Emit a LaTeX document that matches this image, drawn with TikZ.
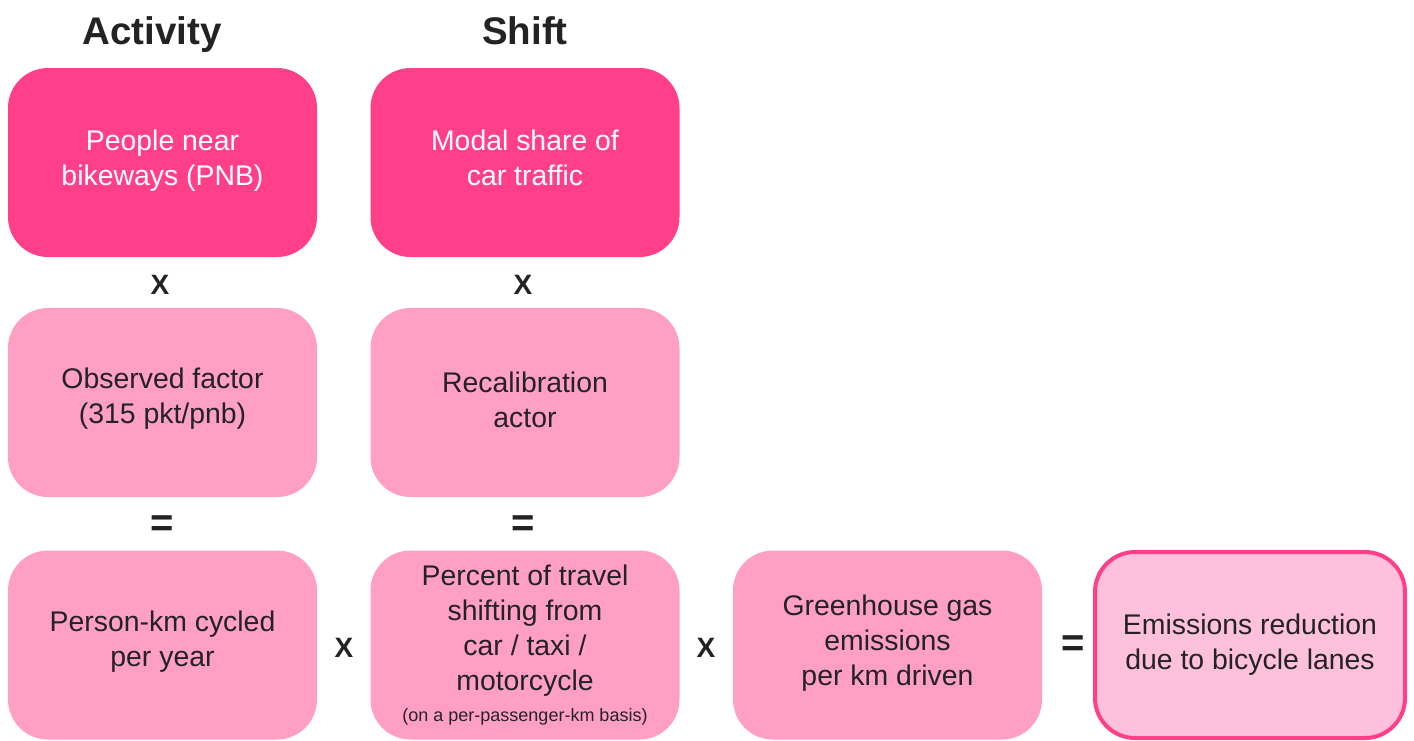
\documentclass[tikz,border=0pt]{standalone}
\usepackage{fontspec}
\setmainfont{Liberation Sans}
\definecolor{hotpink}{HTML}{FF3F8A}
\definecolor{midpink}{HTML}{FF9FC4}
\definecolor{palepink}{HTML}{FFC0DB}
\definecolor{ink}{HTML}{232323}
\tikzset{
  card/.style={minimum width=309pt, minimum height=189pt, rounded corners=40pt,
    inner sep=0pt, align=center, font=\fontsize{28.4}{35}\selectfont},
  topcard/.style={card, fill=hotpink, text=white},
  midcard/.style={card, fill=midpink, text=ink},
  endcard/.style={card, fill=palepink, draw=hotpink, line width=4pt, text=ink,
    minimum width=310pt, minimum height=186pt},
  heading/.style={font=\fontsize{38.5}{40}\selectfont\bfseries, text=ink, anchor=base},
  oper/.style={font=\fontsize{28}{30}\selectfont\bfseries, text=ink, inner sep=0pt},
  eqop/.style={font=\fontsize{40}{40}\selectfont\bfseries, text=ink, inner sep=0pt}
}
\begin{document}
\begin{tikzpicture}[x=1pt,y=-1pt]
\useasboundingbox (0,0) rectangle (1414,740);
\node[heading] (hact) at (152,44) {Activity};
\node[heading] (hshift) at (525,44) {Shift};
\node[topcard] (pnb) at (162.5,162.5) {People near\\bikeways (PNB)\\[-26pt]\mbox{}};
\node[topcard] (modal) at (525,162.5) {Modal share of\\car traffic\\[-26pt]\mbox{}};
\node[midcard] (obs) at (162.5,402.5) {Observed factor\\(315 pkt/pnb)\\[-22pt]\mbox{}};
\node[midcard] (recal) at (525,402.5) {Recalibration\\actor\\[-30pt]\mbox{}};
\node[midcard] (pkm) at (162.5,645) {Person-km cycled\\per year\\[-22pt]\mbox{}};
\node[midcard] (pct) at (525,645) {Percent of travel\\shifting from\\car / taxi /\\motorcycle\\[-4pt]{\fontsize{18}{20}\selectfont (on a per-passenger-km basis)}};
\node[midcard] (ghg) at (887.5,645) {Greenhouse gas\\emissions\\per km driven\\[-26pt]\mbox{}};
\node[endcard] (red) at (1250,645) {Emissions reduction\\due to bicycle lanes};
\node[oper] (x1) at (160,285) {X};
\node[oper] (x2) at (523,285) {X};
\node[eqop] (e1) at (162,526) {=};
\node[eqop] (e2) at (523,526) {=};
\node[oper] (x3) at (344,648) {X};
\node[oper] (x4) at (706,648) {X};
\node[eqop] (e3) at (1073,646) {=};
\end{tikzpicture}
\end{document}
